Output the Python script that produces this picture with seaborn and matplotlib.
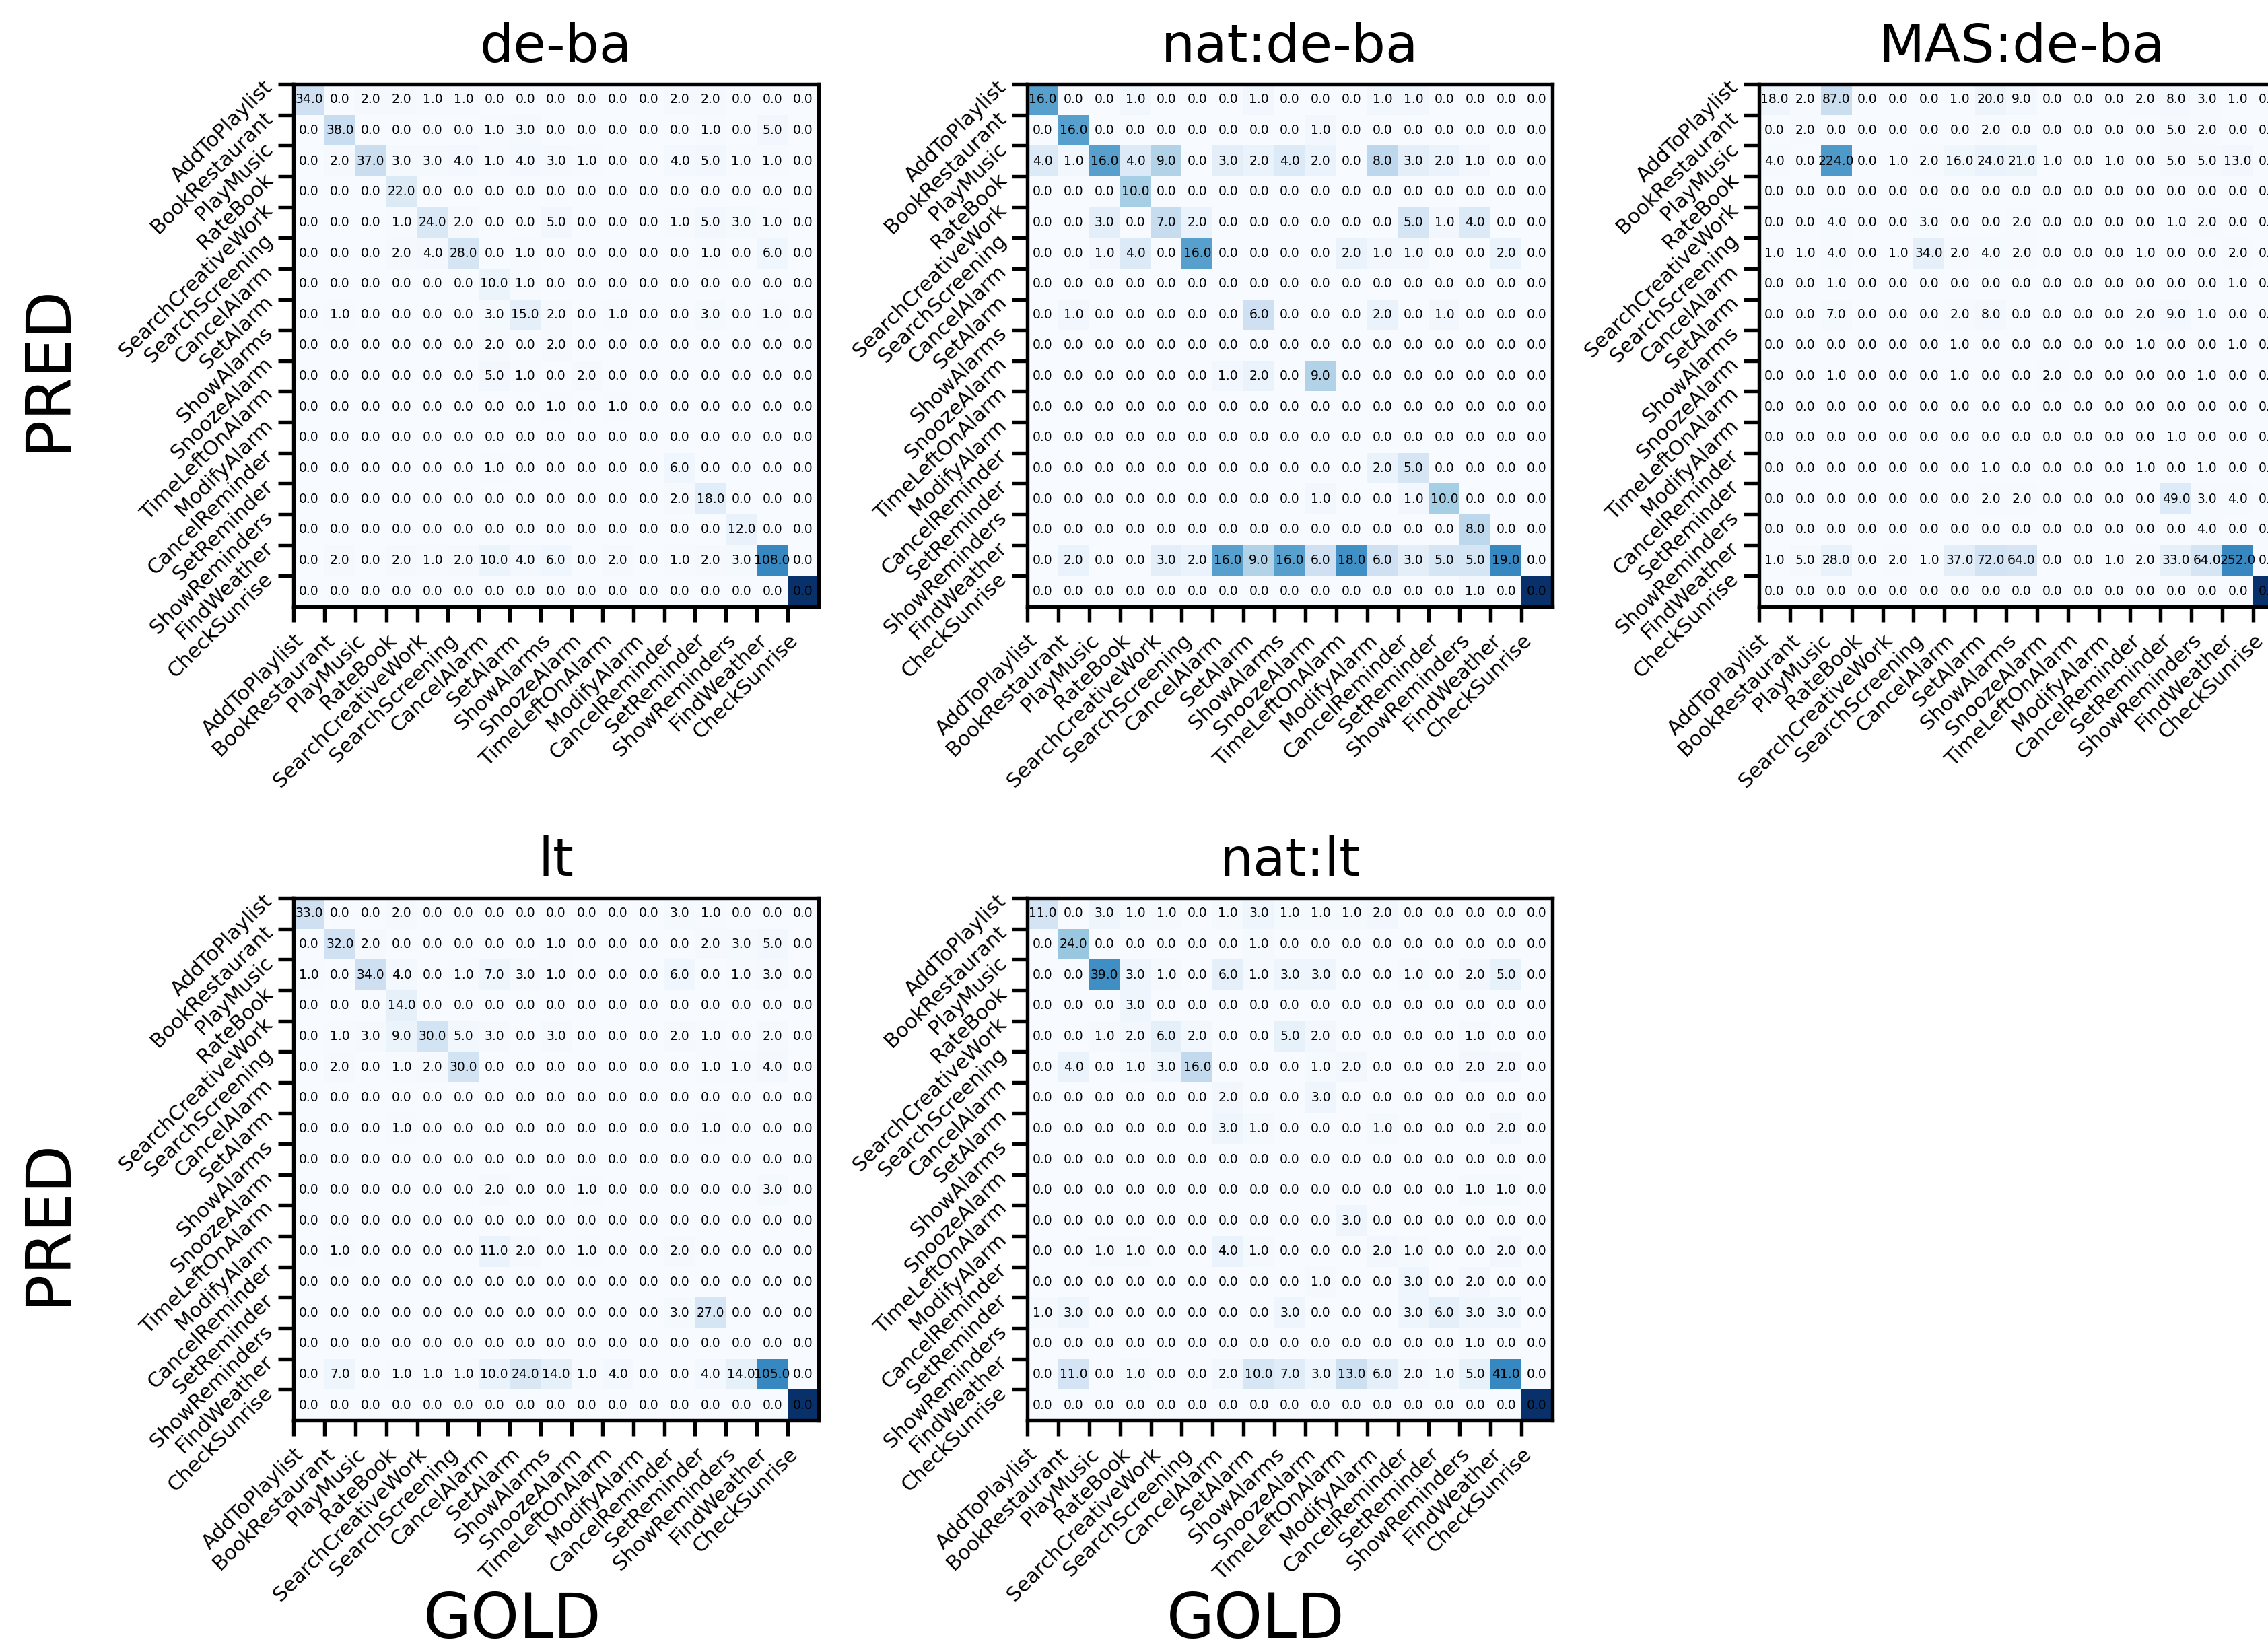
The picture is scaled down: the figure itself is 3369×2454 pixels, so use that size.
from matplotlib import pyplot as plt

import numpy as np

import seaborn as sns


labels = ['AddToPlaylist', 'BookRestaurant', 'PlayMusic', 'RateBook',
          'SearchCreativeWork', 'SearchScreening', 'CancelAlarm', 'SetAlarm',
          'ShowAlarms', 'SnoozeAlarm', 'TimeLeftOnAlarm', 'ModifyAlarm',
          'CancelReminder', 'SetReminder', 'ShowReminders', 'FindWeather',
          'CheckSunrise']

titles = ['de-ba', 'nat:de-ba', 'MAS:de-ba', 'lt', 'nat:lt']

# rows = PRED, columns = GOLD
cm_de_ba = [
    [34, 0, 2, 2, 1, 1, 0, 0, 0, 0, 0, 0, 2, 2, 0, 0, 0],
    [0, 38, 0, 0, 0, 0, 1, 3, 0, 0, 0, 0, 0, 1, 0, 5, 0],
    [0, 2, 37, 3, 3, 4, 1, 4, 3, 1, 0, 0, 4, 5, 1, 1, 0],
    [0, 0, 0, 22, 0, 0, 0, 0, 0, 0, 0, 0, 0, 0, 0, 0, 0],
    [0, 0, 0, 1, 24, 2, 0, 0, 5, 0, 0, 0, 1, 5, 3, 1, 0],
    [0, 0, 0, 2, 4, 28, 0, 1, 0, 0, 0, 0, 0, 1, 0, 6, 0],
    [0, 0, 0, 0, 0, 0, 10, 1, 0, 0, 0, 0, 0, 0, 0, 0, 0],
    [0, 1, 0, 0, 0, 0, 3, 15, 2, 0, 1, 0, 0, 3, 0, 1, 0],
    [0, 0, 0, 0, 0, 0, 2, 0, 2, 0, 0, 0, 0, 0, 0, 0, 0],
    [0, 0, 0, 0, 0, 0, 5, 1, 0, 2, 0, 0, 0, 0, 0, 0, 0],
    [0, 0, 0, 0, 0, 0, 0, 0, 1, 0, 1, 0, 0, 0, 0, 0, 0],
    [0, 0, 0, 0, 0, 0, 0, 0, 0, 0, 0, 0, 0, 0, 0, 0, 0],
    [0, 0, 0, 0, 0, 0, 1, 0, 0, 0, 0, 0, 6, 0, 0, 0, 0],
    [0, 0, 0, 0, 0, 0, 0, 0, 0, 0, 0, 0, 2, 18, 0, 0, 0],
    [0, 0, 0, 0, 0, 0, 0, 0, 0, 0, 0, 0, 0, 0, 12, 0, 0],
    [0, 2, 0, 2, 1, 2, 10, 4, 6, 0, 2, 0, 1, 2, 3, 108, 0],
    [0, 0, 0, 0, 0, 0, 0, 0, 0, 0, 0, 0, 0, 0, 0, 0, 0],
]

cm_nat_de_ba = [
    [16, 0, 0, 1, 0, 0, 0, 1, 0, 0, 0, 1, 1, 0, 0, 0, 0],
    [0, 16, 0, 0, 0, 0, 0, 0, 0, 1, 0, 0, 0, 0, 0, 0, 0],
    [4, 1, 16, 4, 9, 0, 3, 2, 4, 2, 0, 8, 3, 2, 1, 0, 0],
    [0, 0, 0, 10, 0, 0, 0, 0, 0, 0, 0, 0, 0, 0, 0, 0, 0],
    [0, 0, 3, 0, 7, 2, 0, 0, 0, 0, 0, 0, 5, 1, 4, 0, 0],
    [0, 0, 1, 4, 0, 16, 0, 0, 0, 0, 2, 1, 1, 0, 0, 2, 0],
    [0, 0, 0, 0, 0, 0, 0, 0, 0, 0, 0, 0, 0, 0, 0, 0, 0],
    [0, 1, 0, 0, 0, 0, 0, 6, 0, 0, 0, 2, 0, 1, 0, 0, 0],
    [0, 0, 0, 0, 0, 0, 0, 0, 0, 0, 0, 0, 0, 0, 0, 0, 0],
    [0, 0, 0, 0, 0, 0, 1, 2, 0, 9, 0, 0, 0, 0, 0, 0, 0],
    [0, 0, 0, 0, 0, 0, 0, 0, 0, 0, 0, 0, 0, 0, 0, 0, 0],
    [0, 0, 0, 0, 0, 0, 0, 0, 0, 0, 0, 0, 0, 0, 0, 0, 0],
    [0, 0, 0, 0, 0, 0, 0, 0, 0, 0, 0, 2, 5, 0, 0, 0, 0],
    [0, 0, 0, 0, 0, 0, 0, 0, 0, 1, 0, 0, 1, 10, 0, 0, 0],
    [0, 0, 0, 0, 0, 0, 0, 0, 0, 0, 0, 0, 0, 0, 8, 0, 0],
    [0, 2, 0, 0, 3, 2, 16, 9, 16, 6, 18, 6, 3, 5, 5, 19, 0],
    [0, 0, 0, 0, 0, 0, 0, 0, 0, 0, 0, 0, 0, 0, 1, 0, 0],
]

cm_mas_de_ba = [
    [18, 2, 87, 0, 0, 0, 1, 20, 9, 0, 0, 0, 2, 8, 3, 1, 0],
    [0, 2, 0, 0, 0, 0, 0, 2, 0, 0, 0, 0, 0, 5, 2, 0, 0],
    [4, 0, 224, 0, 1, 2, 16, 24, 21, 1, 0, 1, 0, 5, 5, 13, 0],
    [0, 0, 0, 0, 0, 0, 0, 0, 0, 0, 0, 0, 0, 0, 0, 0, 0],
    [0, 0, 4, 0, 0, 3, 0, 0, 2, 0, 0, 0, 0, 1, 2, 0, 0],
    [1, 1, 4, 0, 1, 34, 2, 4, 2, 0, 0, 0, 1, 0, 0, 2, 0],
    [0, 0, 1, 0, 0, 0, 0, 0, 0, 0, 0, 0, 0, 0, 0, 1, 0],
    [0, 0, 7, 0, 0, 0, 2, 8, 0, 0, 0, 0, 2, 9, 1, 0, 0],
    [0, 0, 0, 0, 0, 0, 1, 0, 0, 0, 0, 0, 1, 0, 0, 1, 0],
    [0, 0, 1, 0, 0, 0, 1, 0, 0, 2, 0, 0, 0, 0, 1, 0, 0],
    [0, 0, 0, 0, 0, 0, 0, 0, 0, 0, 0, 0, 0, 0, 0, 0, 0],
    [0, 0, 0, 0, 0, 0, 0, 0, 0, 0, 0, 0, 0, 1, 0, 0, 0],
    [0, 0, 0, 0, 0, 0, 0, 1, 0, 0, 0, 0, 1, 0, 1, 0, 0],
    [0, 0, 0, 0, 0, 0, 0, 2, 2, 0, 0, 0, 0, 49, 3, 4, 0],
    [0, 0, 0, 0, 0, 0, 0, 0, 0, 0, 0, 0, 0, 0, 4, 0, 0],
    [1, 5, 28, 0, 2, 1, 37, 72, 64, 0, 0, 1, 2, 33, 64, 252, 0],
    [0, 0, 0, 0, 0, 0, 0, 0, 0, 0, 0, 0, 0, 0, 0, 0, 0],
]

cm_lt = [
    [33, 0, 0, 2, 0, 0, 0, 0, 0, 0, 0, 0, 3, 1, 0, 0, 0],
    [0, 32, 2, 0, 0, 0, 0, 0, 1, 0, 0, 0, 0, 2, 3, 5, 0],
    [1, 0, 34, 4, 0, 1, 7, 3, 1, 0, 0, 0, 6, 0, 1, 3, 0],
    [0, 0, 0, 14, 0, 0, 0, 0, 0, 0, 0, 0, 0, 0, 0, 0, 0],
    [0, 1, 3, 9, 30, 5, 3, 0, 3, 0, 0, 0, 2, 1, 0, 2, 0],
    [0, 2, 0, 1, 2, 30, 0, 0, 0, 0, 0, 0, 0, 1, 1, 4, 0],
    [0, 0, 0, 0, 0, 0, 0, 0, 0, 0, 0, 0, 0, 0, 0, 0, 0],
    [0, 0, 0, 1, 0, 0, 0, 0, 0, 0, 0, 0, 0, 1, 0, 0, 0],
    [0, 0, 0, 0, 0, 0, 0, 0, 0, 0, 0, 0, 0, 0, 0, 0, 0],
    [0, 0, 0, 0, 0, 0, 2, 0, 0, 1, 0, 0, 0, 0, 0, 3, 0],
    [0, 0, 0, 0, 0, 0, 0, 0, 0, 0, 0, 0, 0, 0, 0, 0, 0],
    [0, 1, 0, 0, 0, 0, 11, 2, 0, 1, 0, 0, 2, 0, 0, 0, 0],
    [0, 0, 0, 0, 0, 0, 0, 0, 0, 0, 0, 0, 0, 0, 0, 0, 0],
    [0, 0, 0, 0, 0, 0, 0, 0, 0, 0, 0, 0, 3, 27, 0, 0, 0],
    [0, 0, 0, 0, 0, 0, 0, 0, 0, 0, 0, 0, 0, 0, 0, 0, 0],
    [0, 7, 0, 1, 1, 1, 10, 24, 14, 1, 4, 0, 0, 4, 14, 105, 0],
    [0, 0, 0, 0, 0, 0, 0, 0, 0, 0, 0, 0, 0, 0, 0, 0, 0],
]

cm_nat_lt = [
    [11, 0, 3, 1, 1, 0, 1, 3, 1, 1, 1, 2, 0, 0, 0, 0, 0],
    [0, 24, 0, 0, 0, 0, 0, 1, 0, 0, 0, 0, 0, 0, 0, 0, 0],
    [0, 0, 39, 3, 1, 0, 6, 1, 3, 3, 0, 0, 1, 0, 2, 5, 0],
    [0, 0, 0, 3, 0, 0, 0, 0, 0, 0, 0, 0, 0, 0, 0, 0, 0],
    [0, 0, 1, 2, 6, 2, 0, 0, 5, 2, 0, 0, 0, 0, 1, 0, 0],
    [0, 4, 0, 1, 3, 16, 0, 0, 0, 1, 2, 0, 0, 0, 2, 2, 0],
    [0, 0, 0, 0, 0, 0, 2, 0, 0, 3, 0, 0, 0, 0, 0, 0, 0],
    [0, 0, 0, 0, 0, 0, 3, 1, 0, 0, 0, 1, 0, 0, 0, 2, 0],
    [0, 0, 0, 0, 0, 0, 0, 0, 0, 0, 0, 0, 0, 0, 0, 0, 0],
    [0, 0, 0, 0, 0, 0, 0, 0, 0, 0, 0, 0, 0, 0, 1, 1, 0],
    [0, 0, 0, 0, 0, 0, 0, 0, 0, 0, 3, 0, 0, 0, 0, 0, 0],
    [0, 0, 1, 1, 0, 0, 4, 1, 0, 0, 0, 2, 1, 0, 0, 2, 0],
    [0, 0, 0, 0, 0, 0, 0, 0, 0, 1, 0, 0, 3, 0, 2, 0, 0],
    [1, 3, 0, 0, 0, 0, 0, 0, 3, 0, 0, 0, 3, 6, 3, 3, 0],
    [0, 0, 0, 0, 0, 0, 0, 0, 0, 0, 0, 0, 0, 0, 1, 0, 0],
    [0, 11, 0, 1, 0, 0, 2, 10, 7, 3, 13, 6, 2, 1, 5, 41, 0],
    [0, 0, 0, 0, 0, 0, 0, 0, 0, 0, 0, 0, 0, 0, 0, 0, 0],
]

matrices = [cm_de_ba, cm_nat_de_ba, cm_mas_de_ba, cm_lt, cm_nat_lt]

W, H = 3370, 2454
DPI = 300

# axes boxes in pixels: (left, top)
col_left = [436, 1526, 2613]
row_top = [125, 1334]
box_w, box_h = 780, 776


def draw_cm(ax, cm, title):
    cm = np.array(cm, dtype=float)
    # colour values: the last cell is pushed to the top of the scale
    colour = cm.copy()
    colour[-1, -1] = 1.5 * cm.max()

    sns.heatmap(colour, ax=ax, annot=cm, fmt='.1f', cmap='Blues',
                cbar=False, square=False,
                annot_kws={'size': 4.5, 'color': 'black'})

    n = len(labels)
    ax.set_xticks(np.arange(n))
    ax.set_yticks(np.arange(n))
    ax.set_xticklabels(labels, rotation=45, ha='right',
                       rotation_mode='anchor', fontsize=7.3)
    ax.set_yticklabels(labels, rotation=45, ha='right', va='center',
                       rotation_mode='anchor', fontsize=7.3)
    ax.tick_params(length=5.5, width=1.3, pad=3)

    # heatmap hides the frame, bring it back
    for sp in ax.spines.values():
        sp.set_visible(True)
        sp.set_linewidth(1.3)
        sp.set_color('black')

    ax.set_title(title, fontsize=19, pad=8)


fig = plt.figure(figsize=(W / DPI, H / DPI), dpi=DPI)

for k, (cm, title) in enumerate(zip(matrices, titles)):
    r, c = divmod(k, 3)
    left = col_left[c] / W
    bottom = 1 - (row_top[r] + box_h) / H
    ax = fig.add_axes([left, bottom, box_w / W, box_h / H])
    draw_cm(ax, cm, title)

# axis names
fig.text(71 / W, 1 - 546 / H, 'PRED', rotation=90, fontsize=22,
         ha='center', va='center')
fig.text(71 / W, 1 - 1815 / H, 'PRED', rotation=90, fontsize=22,
         ha='center', va='center')
fig.text(761 / W, 1 - 2407 / H, 'GOLD', fontsize=22,
         ha='center', va='center')
fig.text(1865 / W, 1 - 2407 / H, 'GOLD', fontsize=22,
         ha='center', va='center')

fig.savefig('out.png', dpi=DPI)
plt.close(fig)
